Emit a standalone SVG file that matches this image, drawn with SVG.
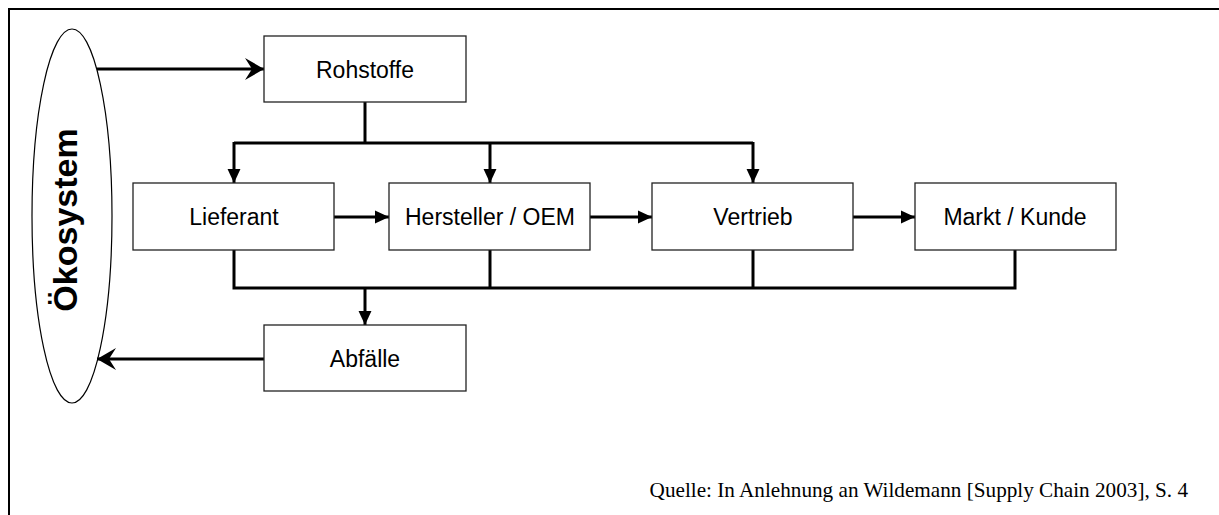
<svg xmlns="http://www.w3.org/2000/svg" width="1219" height="515" viewBox="0 0 1219 515">
<style>
.box{fill:#fff;stroke:#222;stroke-width:1.3}
.lbl{font-family:"Liberation Sans",Arial,sans-serif;font-size:23px;fill:#000;text-anchor:middle}
.con{fill:none;stroke:#000;stroke-width:3}
</style>
<defs>
<marker id="tri" markerUnits="userSpaceOnUse" markerWidth="14" markerHeight="14" viewBox="0 0 13 12" refX="13" refY="6" orient="auto">
<path d="M0,0 L13,6 L0,12 z" fill="#000"/>
</marker>
<marker id="stealth" markerUnits="userSpaceOnUse" markerWidth="20" markerHeight="22" viewBox="0 0 20 22" refX="19" refY="11" orient="auto">
<path d="M0,0 L19,11 L0,22 L7,11 z" fill="#000"/>
</marker>
</defs>
<rect width="1219" height="515" fill="#fff"/>
<g id="frame">
<path d="M9,516 L9,9 L1220,9" fill="none" stroke="#000" stroke-width="2"/>
</g>
<g id="oekosystem">
<ellipse cx="72" cy="216" rx="40" ry="187" fill="#fff" stroke="#000" stroke-width="1.2"/>
<text transform="translate(77,220) rotate(-90)" text-anchor="middle" font-family="Liberation Sans,Arial,sans-serif" font-weight="bold" font-size="34">Ökosystem</text>
</g>
<g id="connectors">
<path class="con" d="M97,69 L264,69" marker-end="url(#stealth)"/>
<path class="con" d="M365,102 L365,143"/>
<path class="con" d="M234,143 L753,143"/>
<path class="con" d="M234,142 L234,183" marker-end="url(#tri)"/>
<path class="con" d="M490,143 L490,183" marker-end="url(#tri)"/>
<path class="con" d="M753,142 L753,183" marker-end="url(#tri)"/>
<path class="con" d="M334,217 L389,217" marker-end="url(#tri)"/>
<path class="con" d="M590,217 L652,217" marker-end="url(#tri)"/>
<path class="con" d="M853,217 L915,217" marker-end="url(#tri)"/>
<path class="con" d="M234,250 L234,288 L1015,288 L1015,250"/>
<path class="con" d="M490,250 L490,288"/>
<path class="con" d="M753,250 L753,288"/>
<path class="con" d="M365,288 L365,325" marker-end="url(#tri)"/>
<path class="con" d="M264,359 L97,359" marker-end="url(#stealth)"/>
</g>
<g id="rohstoffe">
<rect class="box" x="264" y="36" width="202" height="66"/>
<text class="lbl" x="365" y="78">Rohstoffe</text>
</g>
<g id="lieferant">
<rect class="box" x="133" y="183" width="201" height="67"/>
<text class="lbl" x="234" y="225">Lieferant</text>
</g>
<g id="hersteller">
<rect class="box" x="389" y="183" width="201" height="67"/>
<text class="lbl" x="490" y="225">Hersteller / OEM</text>
</g>
<g id="vertrieb">
<rect class="box" x="652" y="183" width="201" height="67"/>
<text class="lbl" x="753" y="225">Vertrieb</text>
</g>
<g id="markt">
<rect class="box" x="915" y="183" width="201" height="67"/>
<text class="lbl" x="1015" y="225">Markt / Kunde</text>
</g>
<g id="abfaelle">
<rect class="box" x="264" y="325" width="202" height="66"/>
<text class="lbl" x="365" y="367">Abfälle</text>
</g>
<text x="1188" y="497" text-anchor="end" font-family="Liberation Serif,Times New Roman,serif" font-size="21.2">Quelle: In Anlehnung an Wildemann [Supply Chain 2003], S. 4</text>
</svg>
